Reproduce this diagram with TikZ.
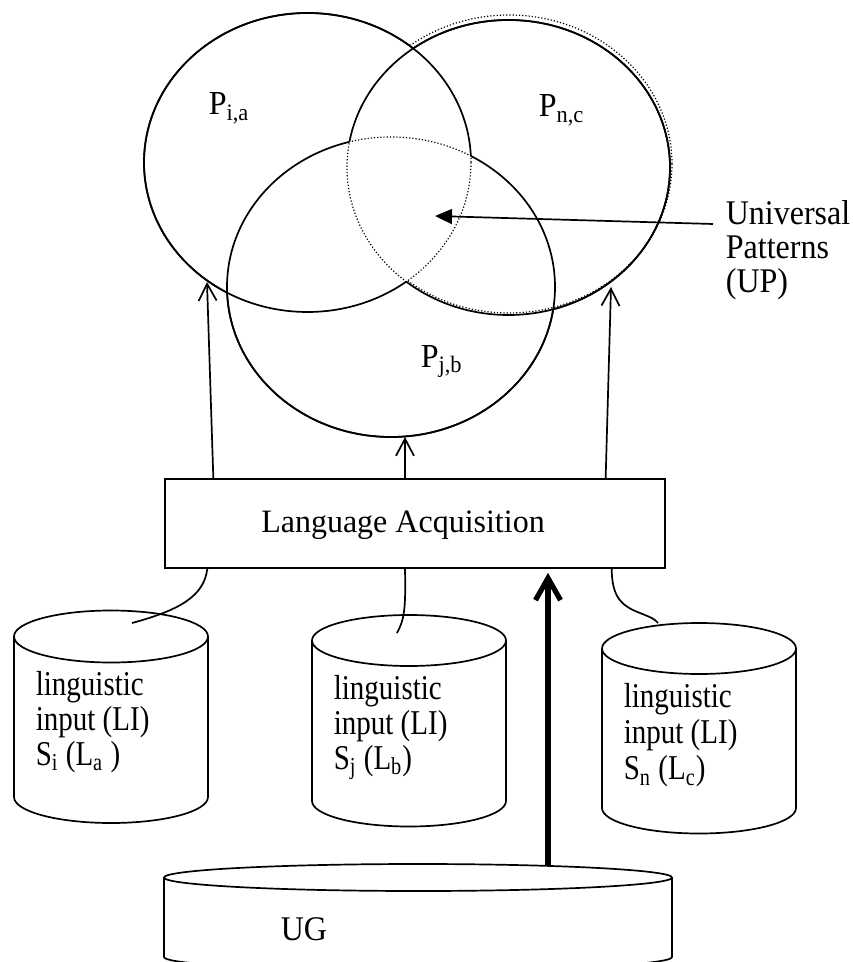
\documentclass[tikz,border=0pt]{standalone}
\usepackage{fontspec}
\setmainfont{Liberation Serif}
\usetikzlibrary{arrows.meta,calc}
% text stretched vertically by a given factor
\newcommand{\vs}[2][1.05]{\scalebox{1}[#1]{#2}}
% cylinder: centre x, top y, bottom y, x radius, y radius
\newcommand{\drum}[5]{%
  \draw (#1-#4,#2) -- (#1-#4,#3) arc[start angle=180, end angle=0, x radius=#4, y radius=#5] -- (#1+#4,#2);
  \draw (#1,#2) ellipse [x radius=#4, y radius=#5];}
\newcommand{\circA}{(307.5,162.5) ellipse [x radius=163.5, y radius=149.5]}
\newcommand{\circB}{(391,287) ellipse [x radius=164, y radius=150]}
\newcommand{\circC}{(508.5,167.5) ellipse [x radius=161.5, y radius=147.5]}
\newcommand{\bigrect}{(-20,-20) rectangle (880,990)}
\begin{document}
\begin{tikzpicture}[x=0.5pt,y=-0.5pt,line width=0.85pt,
  txt/.style={font=\fontsize{16}{16}\selectfont, inner sep=0pt},
  littxt/.style={font=\fontsize{14.5}{14.6}\selectfont, inner sep=0pt},
  dots/.style={densely dotted, line width=0.6pt},
  barb/.style={-{Straight Barb[length=8.5pt,width=9pt]}},
  thickarrow/.style={line width=2.6pt,-{Straight Barb[length=11pt,width=12.5pt]}},
  pointer/.style={-{Triangle[length=8.5pt,width=7.5pt]}}]
\useasboundingbox (0,0) rectangle (852,962);

% three overlapping pattern sets; the common region is outlined dotted
\begin{scope}[even odd rule]\clip \bigrect \circB; \draw \circA; \end{scope}
\begin{scope}[even odd rule]\clip \bigrect \circC; \draw \circA; \end{scope}
\begin{scope}[even odd rule]\clip \bigrect \circA; \draw \circB; \end{scope}
\begin{scope}[even odd rule]\clip \bigrect \circC; \draw \circB; \end{scope}
\begin{scope}[even odd rule]\clip \bigrect \circA; \draw \circC; \end{scope}
\begin{scope}[even odd rule]\clip \bigrect \circB; \draw \circC; \end{scope}
\begin{scope}\clip \circB; \clip \circC; \draw[dots] \circA; \end{scope}
\begin{scope}\clip \circA; \clip \circC; \draw[dots] \circB; \end{scope}
\begin{scope}\clip \circA; \clip \circB; \draw[dots] \circC; \end{scope}
% faint second outline of the right set
\begin{scope}[even odd rule]\clip \bigrect \circA;
  \draw[dots] (509,164) ellipse [x radius=163, y radius=149];
\end{scope}

\node[txt,anchor=base west] (pia) at (208,115) {\vs{P\textsubscript{i,a}}};
\node[txt,anchor=base west] (pnc) at (538,117) {\vs{P\textsubscript{n,c}}};
\node[txt,anchor=base west] (pjb) at (420,367) {\vs{P\textsubscript{j,b}}};

% universal patterns
\node[txt,anchor=base west,font=\fontsize{16}{15.4}\selectfont] (up) at (725,225)
  {\vs[1.08]{\begin{tabular}[t]{@{}l@{}}Universal\\Patterns\\(UP)\end{tabular}}};
\coordinate (upstart) at (713,224);
\coordinate (uptip) at (435,216);
\draw[pointer] (upstart) -- (uptip);

% language acquisition box
\node[draw,minimum width=250pt,minimum height=44.5pt,inner sep=0pt] (acq) at (415,523.5) {};
\node[txt,anchor=base] (acqtext) at (403,532) {\vs[1.02]{Language Acquisition}};

\coordinate (tipA) at (207,282);
\coordinate (tipB) at (405,437);
\coordinate (tipC) at (611,287);
\draw[barb] ($(acq.north west)!0.098!(acq.north east)$) -- (tipA);
\draw[barb] ($(acq.north west)!0.48!(acq.north east)$) -- (tipB);
\draw[barb] ($(acq.north west)!0.88!(acq.north east)$) -- (tipC);

% linguistic input stores
\drum{111}{636.5}{797}{97}{26}
\drum{409}{640.5}{801}{97}{25.5}
\drum{699}{648.5}{808}{97}{25.5}
\node[littxt,anchor=base west] (li1) at (35,695)
  {\vs[1.2]{\begin{tabular}[t]{@{}l@{}}linguistic\\input (LI)\\S\textsubscript{i} (L\textsubscript{a} )\end{tabular}}};
\node[littxt,anchor=base west] (li2) at (333,699)
  {\vs[1.2]{\begin{tabular}[t]{@{}l@{}}linguistic\\input (LI)\\S\textsubscript{j} (L\textsubscript{b})\end{tabular}}};
\node[littxt,anchor=base west,font=\fontsize{14.5}{15.2}\selectfont] (li3) at (623,707)
  {\vs[1.2]{\begin{tabular}[t]{@{}l@{}}linguistic\\input (LI)\\S\textsubscript{n} (L\textsubscript{c})\end{tabular}}};

\coordinate (in1) at (132,623);
\coordinate (in2) at (397,633);
\coordinate (in3) at (658,623);
\draw ($(acq.south west)!0.086!(acq.south east)$) .. controls (204,596) and (180,610) .. (in1);
\draw ($(acq.south west)!0.48!(acq.south east)$) .. controls (406,610) and (404,620) .. (in2);
\draw ($(acq.south west)!0.892!(acq.south east)$) .. controls (612,598) and (622,606) .. (640,613)
  .. controls (650,617) and (655,619) .. (in3);

% universal grammar
\drum{418}{877.5}{957}{254}{13.5}
\node[txt,anchor=base west] (ug) at (280,940) {\vs[1.08]{UG}};
\coordinate (ugtop) at (548,866);
\draw[thickarrow] (ugtop) -- ($(ugtop |- acq.south)+(0,4)$);
\end{tikzpicture}
\end{document}
